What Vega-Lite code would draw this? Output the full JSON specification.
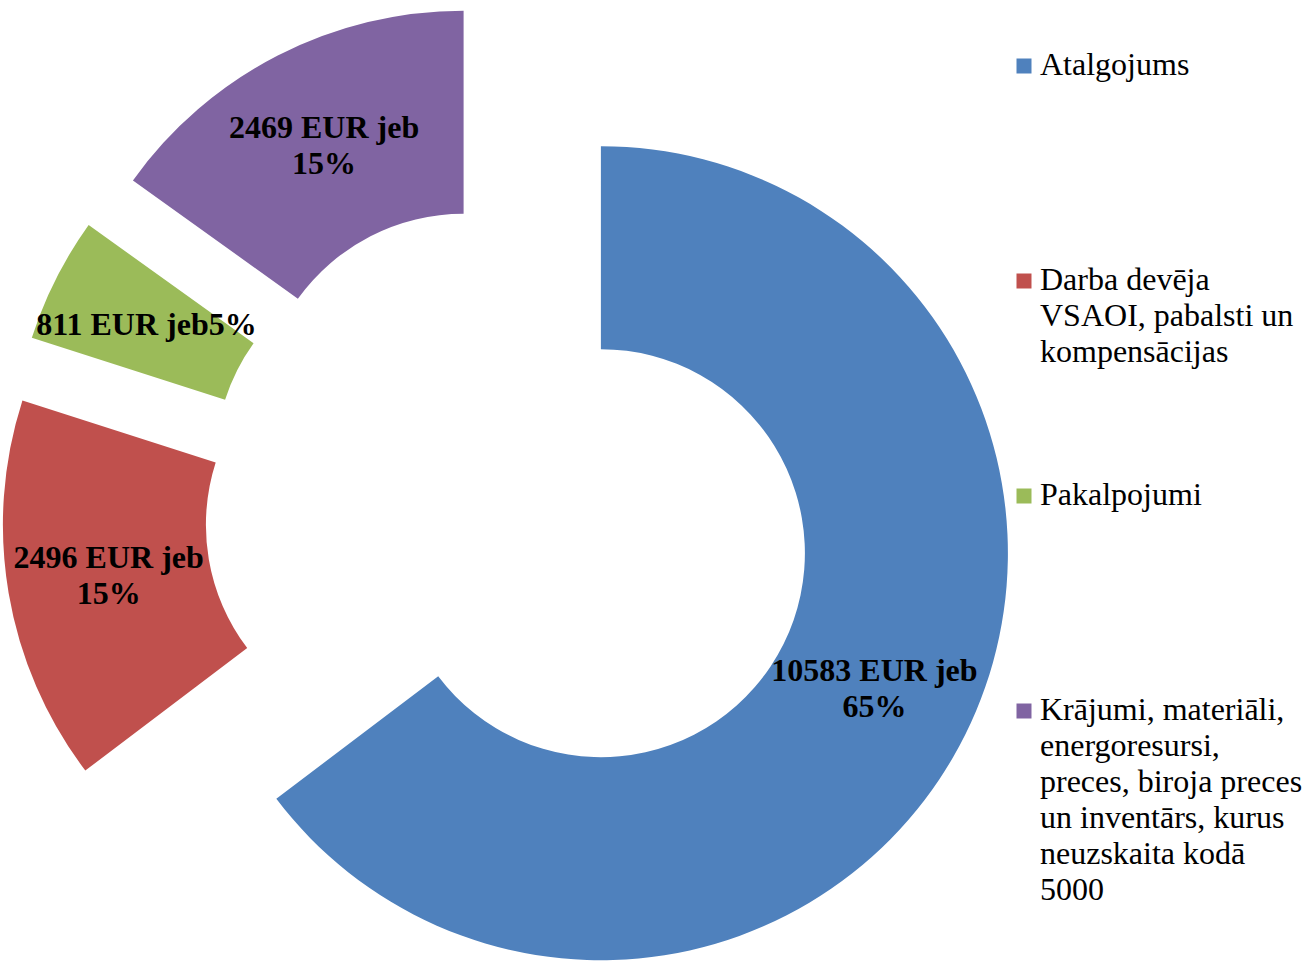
{
  "$schema": "https://vega.github.io/schema/vega-lite/v6.json",
  "autosize": "none",
  "width": 1020,
  "height": 908,
  "padding": {"left": 0, "top": 54, "right": 287, "bottom": 0},
  "background": "white",
  "config": {"view": {"stroke": null}},
  "data": {
    "values": [
      {"category": "Atalgojums", "value": 10583, "label": "10583 EUR jeb\n65%"},
      {"category": "Darba devēja VSAOI, pabalsti un kompensācijas", "value": 2496, "label": "2496 EUR jeb\n15%"},
      {"category": "Pakalpojumi", "value": 811, "label": "811 EUR jeb5%"},
      {"category": "Krājumi, materiāli, energoresursi, preces, biroja preces un inventārs, kurus neuzskaita kodā 5000", "value": 2469, "label": "2469 EUR jeb\n15%"}
    ]
  },
  "transform": [
    {"window": [{"op": "row_number", "as": "idx"}]},
    {"stack": "value", "groupby": [], "sort": [{"field": "idx", "order": "ascending"}], "as": ["v0", "v1"]},
    {"calculate": "(datum.v0 + datum.v1) / 2", "as": "mid"}
  ],
  "encoding": {
    "color": {
      "field": "category",
      "type": "nominal",
      "scale": {
        "domain": ["Atalgojums", "Darba devēja VSAOI, pabalsti un kompensācijas", "Pakalpojumi", "Krājumi, materiāli, energoresursi, preces, biroja preces un inventārs, kurus neuzskaita kodā 5000"],
        "range": ["#4F81BD", "#C0504D", "#9BBB59", "#8064A2"]
      },
      "legend": {
        "title": null,
        "orient": "none",
        "legendX": 1008,
        "legendY": -4,
        "symbolType": "square",
        "symbolSize": 225,
        "symbolStrokeWidth": 0,
        "labelFont": "Liberation Serif",
        "labelFontSize": 32,
        "labelColor": "black",
        "labelLimit": 600,
        "labelOffset": 0,
        "labelBaseline": "alphabetic",
        "rowPadding": 3,
        "labelExpr": "datum.label == 'Atalgojums' ? ['Atalgojums','','','','',''] : datum.label == 'Pakalpojumi' ? ['Pakalpojumi','','','','',''] : indexof(datum.label, 'Darba') == 0 ? ['Darba devēja','VSAOI, pabalsti un','kompensācijas','','',''] : ['Krājumi, materiāli,','energoresursi,','preces, biroja preces','un inventārs, kurus','neuzskaita kodā','5000']",
        "encode": {"labels": {"update": {"dy": {"value": 9}, "lineHeight": {"value": 36}}}}
      }
    }
  },
  "layer": [
    {
      "transform": [{"filter": "datum.category == 'Atalgojums'"}],
      "layer": [
        {
          "mark": {"type": "arc", "innerRadius": 204, "outerRadius": 407, "xOffset": 90.9, "yOffset": 45.2},
          "encoding": {
            "theta": {"field": "v0", "type": "quantitative", "scale": {"domain": [0, 16359]}},
            "theta2": {"field": "v1"}
          }
        },
        {
          "mark": {"type": "text", "radius": 305.5, "xOffset": 90.9, "yOffset": 45.2, "dy": -18, "font": "Liberation Serif", "fontSize": 32, "fontWeight": "bold", "lineBreak": "\n", "lineHeight": 36, "align": "center", "baseline": "middle"},
          "encoding": {
            "theta": {"field": "mid", "type": "quantitative", "stack": null, "scale": {"domain": [0, 16359]}},
            "text": {"field": "label"},
            "color": {"value": "black"}
          }
        }
      ]
    },
    {
      "transform": [{"filter": "indexof(datum.category, 'Darba') == 0"}],
      "layer": [
        {
          "mark": {"type": "arc", "innerRadius": 204, "outerRadius": 407, "xOffset": -100.1, "yOffset": 17.0},
          "encoding": {
            "theta": {"field": "v0", "type": "quantitative", "scale": {"domain": [0, 16359]}},
            "theta2": {"field": "v1"}
          }
        },
        {
          "mark": {"type": "text", "radius": 305.5, "xOffset": -100.1, "yOffset": 17.0, "dy": -18, "font": "Liberation Serif", "fontSize": 32, "fontWeight": "bold", "lineBreak": "\n", "lineHeight": 36, "align": "center", "baseline": "middle"},
          "encoding": {
            "theta": {"field": "mid", "type": "quantitative", "stack": null, "scale": {"domain": [0, 16359]}},
            "text": {"field": "label"},
            "color": {"value": "black"}
          }
        }
      ]
    },
    {
      "transform": [{"filter": "datum.category == 'Pakalpojumi'"}],
      "layer": [
        {
          "mark": {"type": "arc", "innerRadius": 204, "outerRadius": 407, "xOffset": -90.7, "yOffset": -45.7},
          "encoding": {
            "theta": {"field": "v0", "type": "quantitative", "scale": {"domain": [0, 16359]}},
            "theta2": {"field": "v1"}
          }
        },
        {
          "mark": {"type": "text", "radius": 305.5, "xOffset": -90.7, "yOffset": -45.7, "font": "Liberation Serif", "fontSize": 32, "fontWeight": "bold", "lineBreak": "\n", "lineHeight": 36, "align": "center", "baseline": "middle"},
          "encoding": {
            "theta": {"field": "mid", "type": "quantitative", "stack": null, "scale": {"domain": [0, 16359]}},
            "text": {"field": "label"},
            "color": {"value": "black"}
          }
        }
      ]
    },
    {
      "transform": [{"filter": "indexof(datum.category, 'Krājumi') == 0"}],
      "layer": [
        {
          "mark": {"type": "arc", "innerRadius": 204, "outerRadius": 407, "xOffset": -46.4, "yOffset": -90.3},
          "encoding": {
            "theta": {"field": "v0", "type": "quantitative", "scale": {"domain": [0, 16359]}},
            "theta2": {"field": "v1"}
          }
        },
        {
          "mark": {"type": "text", "radius": 305.5, "xOffset": -46.4, "yOffset": -90.3, "dy": -18, "font": "Liberation Serif", "fontSize": 32, "fontWeight": "bold", "lineBreak": "\n", "lineHeight": 36, "align": "center", "baseline": "middle"},
          "encoding": {
            "theta": {"field": "mid", "type": "quantitative", "stack": null, "scale": {"domain": [0, 16359]}},
            "text": {"field": "label"},
            "color": {"value": "black"}
          }
        }
      ]
    }
  ]
}
